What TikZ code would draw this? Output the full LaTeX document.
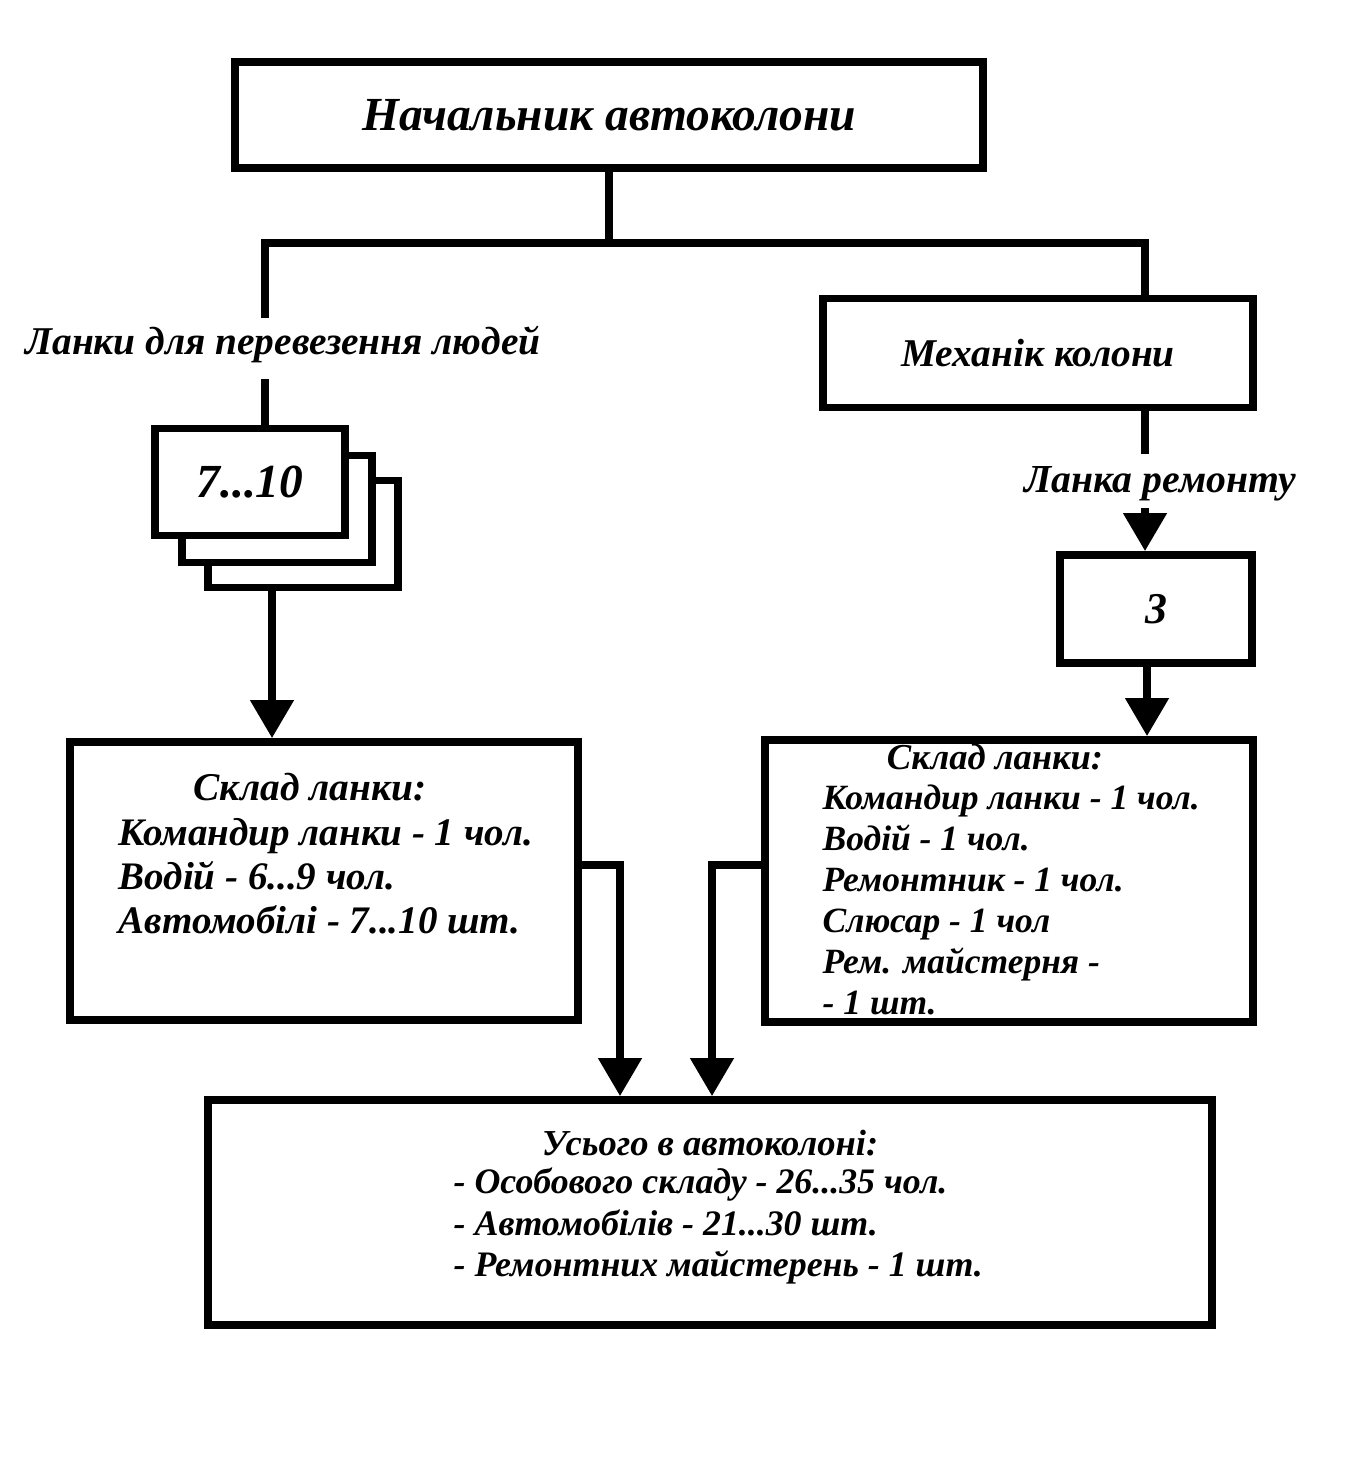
\documentclass[tikz,border=0pt]{standalone}
\usepackage{fontspec}
\setmainfont{Liberation Serif}
\usetikzlibrary{positioning, arrows.meta, calc}

\begin{document}
\begin{tikzpicture}[
          box/.style={draw, line width=2.2pt, fill=white, inner sep=0pt,
                      font=\bfseries\itshape\fontsize{11.2}{13}\selectfont},
          txt/.style={inner sep=0pt, align=left,
                      font=\bfseries\itshape\fontsize{11.2}{12.5}\selectfont},
          link/.style={line width=2.2pt},
          arrow/.style={line width=2.2pt, -{Triangle[width=4.2mm,length=3.8mm]}}
        ]
        \useasboundingbox (0,0) rectangle (13.57,-14.76);

        % Chief and the bus under it
        \node[box, minimum width=7.48cm, minimum height=1.06cm,
              font=\bfseries\itshape\fontsize{13.5}{16}\selectfont]
              (chief) at (6.09,-1.15) {Начальник автоколони};
        \coordinate (busL) at (2.65,-2.43);
        \coordinate (busR) at (11.45,-2.43);

        % Left branch: people carrying links
        \node[txt] (peopleLbl) at (2.83,-3.45) {Ланки для перевезення людей};
        \node[box, minimum width=1.90cm, minimum height=1.07cm] (stackC) at (3.03,-5.34) {};
        \node[box, minimum width=1.90cm, minimum height=1.07cm] (stackB) at (2.77,-5.09) {};
        \node[box, minimum width=1.90cm, minimum height=1.07cm,
              font=\bfseries\itshape\fontsize{13.5}{16}\selectfont]
              (stackA) at (2.50,-4.82) {7...10};
        \coordinate (leftDrop) at (2.72,0);

        \node[box, minimum width=5.08cm, minimum height=2.78cm] (crewL) at (3.24,-8.81) {};
        \node[txt] (crewLTitle) at (3.10,-7.87) {Склад ланки:};
        \node[txt, anchor=west, font=\bfseries\itshape\fontsize{11.1}{12.5}\selectfont]
              (crewLList) at (1.18,-8.76)
              {Командир ланки - 1 чол.\\Водій - 6...9 чол.\\Автомобілі - 7...10 шт.};

        % Right branch: repair link
        \node[box, minimum width=4.30cm, minimum height=1.09cm] (mech) at (10.38,-3.53) {Механік колони};
        \node[txt, font=\bfseries\itshape\fontsize{11.3}{14}\selectfont]
              (repairLbl) at (11.60,-4.84) {Ланка ремонту};
        \node[box, minimum width=1.92cm, minimum height=1.08cm,
              font=\bfseries\itshape\fontsize{12.5}{15}\selectfont]
              (repairNum) at (11.56,-6.09) {3};
        \coordinate (rightDrop) at (11.47,0);

        \node[box, minimum width=4.88cm, minimum height=2.82cm] (crewR) at (10.09,-8.81) {};
        \node[txt, font=\bfseries\itshape\fontsize{10.4}{11.7}\selectfont]
              (crewRTitle) at (9.95,-7.57) {Склад ланки:};
        \node[txt, anchor=west, font=\bfseries\itshape\fontsize{10.1}{11.7}\selectfont]
              (crewRList) at (8.22,-9.00)
              {Командир ланки - 1 чол.\\Водій - 1 чол.\\Ремонтник - 1 чол.\\Слюсар - 1 чол\\Рем. майстерня -\\- 1 шт.};

        % Total
        \node[box, minimum width=10.04cm, minimum height=2.25cm] (total) at (7.10,-12.125) {};
        \node[txt, font=\bfseries\itshape\fontsize{10.4}{11.7}\selectfont]
              (totalTitle) at (7.10,-11.43) {Усього в автоколоні:};
        \node[txt, anchor=west, font=\bfseries\itshape\fontsize{10.2}{11.7}\selectfont]
              (totalList) at (4.53,-12.26)
              {- Особового складу - 26...35 чол.\\- Автомобілів - 21...30 шт.\\- Ремонтних майстерень - 1 шт.};
        \coordinate (joinL) at (6.20,-8.65);
        \coordinate (joinR) at (7.12,-8.65);

        % Connectors
        \draw[link] (chief.south) -- (chief.south |- busL);
        \draw[link] ($(busL |- peopleLbl.north)+(0,0.08)$) -- (busL) -- (busR) -- (busR |- mech.north);
        \draw[link] ($(busL |- peopleLbl.south)+(0,-0.15)$) -- (busL |- stackA.north);
        \draw[arrow] (stackC.south -| leftDrop) -- (crewL.north -| leftDrop);
        \draw[link] (mech.south -| busR) -- ($(busR |- repairLbl.north)+(0,0.12)$);
        \draw[arrow] ($(busR |- repairLbl.south)+(0,-0.06)$) -- (busR |- repairNum.north);
        \draw[arrow] (repairNum.south -| rightDrop) -- (crewR.north -| rightDrop);
        \draw[arrow] (crewL.east |- joinL) -| (total.north -| joinL);
        \draw[arrow] (crewR.west |- joinR) -| (total.north -| joinR);
      \end{tikzpicture}
\end{document}
